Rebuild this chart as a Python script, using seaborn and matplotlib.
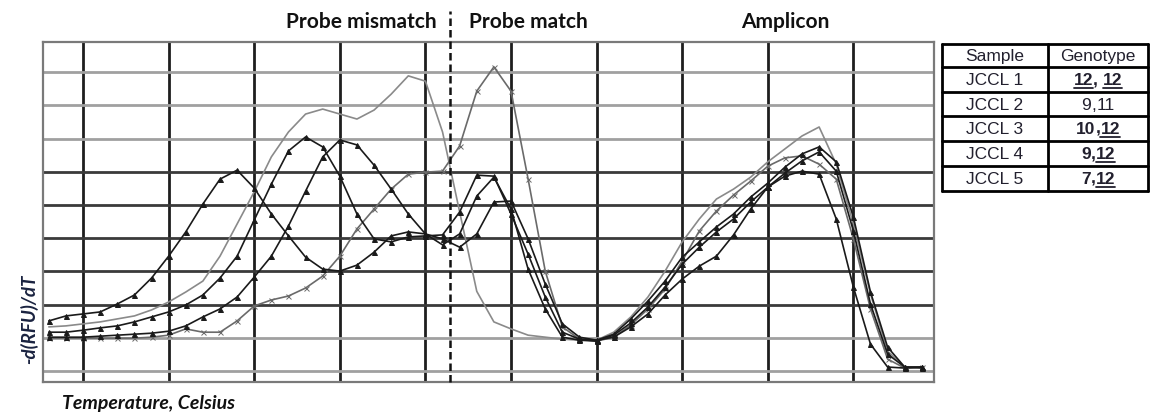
import numpy as np
import pandas as pd
import matplotlib
matplotlib.use("Agg")
import matplotlib.pyplot as plt
from matplotlib.lines import Line2D
import seaborn as sns

# ---------------- data ----------------
temperature = list(range(48, 100))  # Celsius, 1 degree steps

# JCCL 1 (12,12)
jccl1 = [0.99, 0.99, 0.99, 0.99, 0.99, 0.99, 1.02, 1.08, 1.27, 1.17,
         1.17, 1.51, 1.96, 2.14, 2.26, 2.50, 2.86, 3.46, 4.28, 4.88,
         5.48, 5.93, 5.99, 6.02, 6.78, 8.43, 9.16, 8.43, 5.78, 3.01,
         1.33, 0.96, 0.90, 1.02, 1.39, 1.87, 2.47, 3.31, 4.22, 4.82,
         5.30, 5.72, 6.17, 6.42, 6.48, 6.23, 5.78, 3.98, 1.87, 0.36,
         0.09, 0.12]
# JCCL 2 (9,11)
jccl2 = [1.33, 1.36, 1.42, 1.48, 1.57, 1.66, 1.84, 2.08, 2.38, 2.71,
         3.46, 4.43, 5.40, 6.45, 7.20, 7.74, 7.89, 7.74, 7.59, 7.86,
         8.34, 8.89, 8.73, 7.20, 4.79, 2.40, 1.48, 1.27, 1.08, 1.02,
         0.96, 0.93, 0.93, 1.17, 1.63, 2.23, 3.01, 3.89, 4.58, 5.18,
         5.48, 5.84, 6.30, 6.69, 7.08, 7.35, 6.23, 4.43, 2.32, 0.60,
         0.12, 0.12]
# JCCL 3 (10,12)
jccl3 = [1.02, 1.02, 1.02, 1.05, 1.08, 1.11, 1.14, 1.20, 1.36, 1.63,
         1.87, 2.23, 2.83, 3.46, 4.37, 5.42, 6.45, 6.96, 6.81, 6.20,
         5.48, 4.73, 4.13, 3.80, 4.13, 5.27, 5.84, 4.88, 3.07, 1.87,
         1.02, 0.93, 0.90, 1.08, 1.45, 1.93, 2.53, 3.22, 3.73, 4.19,
         4.58, 5.09, 5.54, 5.96, 6.33, 6.60, 6.02, 4.22, 2.02, 0.51,
         0.12, 0.09]
# JCCL 4 (9,12)
jccl4 = [1.17, 1.17, 1.23, 1.30, 1.36, 1.48, 1.63, 1.78, 1.99, 2.29,
         2.80, 3.46, 4.55, 5.63, 6.63, 7.05, 6.75, 5.87, 4.73, 3.98,
         3.89, 4.04, 4.07, 4.10, 4.79, 5.90, 5.87, 4.73, 3.52, 2.23,
         1.17, 0.96, 0.93, 1.11, 1.57, 2.11, 2.71, 3.43, 3.89, 4.34,
         4.73, 5.24, 5.66, 6.14, 6.54, 6.75, 6.30, 4.64, 2.38, 0.72,
         0.12, 0.12]
# JCCL 5 (7,12)
jccl5 = [1.51, 1.66, 1.72, 1.78, 2.02, 2.29, 2.80, 3.46, 4.19, 5.03,
         5.78, 6.05, 5.51, 4.73, 4.07, 3.43, 3.07, 3.01, 3.19, 3.58,
         4.07, 4.19, 4.13, 3.98, 3.73, 4.13, 5.09, 5.12, 3.98, 2.62,
         1.42, 1.02, 0.93, 1.02, 1.33, 1.72, 2.29, 2.77, 3.16, 3.46,
         4.10, 4.88, 5.54, 5.87, 6.02, 5.93, 4.58, 2.53, 0.81, 0.12,
         0.09, 0.12]

samples = ["JCCL 1", "JCCL 2", "JCCL 3", "JCCL 4", "JCCL 5"]
allele_a = ["12", "9", "10", "9", "7"]
allele_b = ["12", "11", "12", "12", "12"]
matched_allele = "12"
region_labels = ["Probe mismatch", "Probe match", "Amplicon"]
boundary_temp = 71.44

# ---------------- style ----------------
sns.set_style("white")
plt.rcParams["font.family"] = ["Lato", "DejaVu Sans"]

W, H = 1151, 414
fig = plt.figure(figsize=(W / 100, H / 100), dpi=100)

def fx(px):
    return px / W

def fy(py):
    return 1 - py / H

ax = fig.add_axes([fx(43), fy(383), fx(934) - fx(43), fy(43) - fy(383)])
ax.set_xlim(47.66, 99.71)
ax.set_ylim(-0.33, 9.91)

# grid
ax.set_xticks(range(50, 96, 5))
ax.set_yticks(range(2, 7))
ax.set_yticks([0, 1, 7, 8, 9], minor=True)
ax.grid(axis="x", which="major", color="#1e1e1e", lw=2.0)
ax.grid(axis="y", which="major", color="#3a3a3a", lw=2.0)
ax.grid(axis="y", which="minor", color="#a0a0a0", lw=2.0)
ax.set_axisbelow(True)
ax.tick_params(which="both", length=0, labelbottom=False, labelleft=False)
for s in ax.spines.values():
    s.set_color("#7a7a7a")
    s.set_linewidth(1.6)

series = [
    (jccl2, "#8a8a8a", None, 1.2),
    (jccl1, "#6a6a6a", "x", 1.2),
    (jccl3, "#1a1a1a", "^", 1.2),
    (jccl4, "#1a1a1a", "^", 1.2),
    (jccl5, "#1a1a1a", "^", 1.2),
]
for vals, col, mk, lw in series:
    kw = dict(marker=mk, markersize=3.6, markeredgewidth=0.7,
              markeredgecolor=col, markerfacecolor=col) if mk else {}
    sns.lineplot(x=temperature, y=vals, color=col, lw=lw, ax=ax,
                 legend=False, zorder=3, **kw)

ax.set_xlabel("")
ax.set_ylabel("")

# dashed boundary line
ax.axvline(boundary_temp, ymin=0, ymax=(383 - 12) / 340, clip_on=False,
           color="#111111", lw=1.8, ls=(0, (3, 1.6)), zorder=4)

# region titles
for lab, cx in zip(region_labels, [361, 528, 785]):
    fig.text(fx(cx), fy(22), lab, ha="center", va="center",
             fontsize=15, fontweight="bold", color="#111111")

# axis labels
fig.text(fx(29), fy(319), "-d(RFU)/dT", rotation=90, ha="center",
         va="center", fontsize=13.5, fontweight="bold", fontstyle="italic",
         color="#1a2340")
fig.text(fx(62), fy(404), "Temperature, Celsius", ha="left", va="center",
         fontsize=14, fontweight="bold", fontstyle="italic", color="#111111")

# ---------------- genotype table ----------------
rows_y = [45, 68, 93, 117, 142, 167, 192]
cols_x = [942, 1048, 1148]
for y in rows_y:
    fig.add_artist(Line2D([fx(cols_x[0]), fx(cols_x[-1])], [fy(y), fy(y)],
                          transform=fig.transFigure, color="black", lw=2))
for x in cols_x:
    fig.add_artist(Line2D([fx(x), fx(x)], [fy(rows_y[0]), fy(rows_y[-1])],
                          transform=fig.transFigure, color="black", lw=2))

tcol = "#22202e"
tfont = ["Liberation Sans", "DejaVu Sans"]
scx = (cols_x[0] + cols_x[1]) / 2
gcx = (cols_x[1] + cols_x[2]) / 2
hy = (rows_y[0] + rows_y[1]) / 2
fig.text(fx(scx), fy(hy), "Sample", ha="center", va="center", fontsize=12.5,
         color=tcol, family=tfont)
fig.text(fx(gcx), fy(hy), "Genotype", ha="center", va="center", fontsize=12.5,
         color=tcol, family=tfont)

fig.canvas.draw()
renderer = fig.canvas.get_renderer()
for i, name in enumerate(samples):
    cy = (rows_y[i + 1] + rows_y[i + 2]) / 2
    fig.text(fx(scx), fy(cy), name, ha="center", va="center", fontsize=12.5,
             color=tcol, family=tfont)
    sep = ", " if allele_a[i] == allele_b[i] else ","
    pieces = [allele_a[i], sep, allele_b[i]]
    has_match = matched_allele in (allele_a[i], allele_b[i])
    weight = "bold" if has_match else "normal"
    texts = [fig.text(0, fy(cy), p, ha="left", va="center", fontsize=12.5,
                      color=tcol, family=tfont, fontweight=weight)
             for p in pieces]
    widths = [t.get_window_extent(renderer).width for t in texts]
    x0 = gcx - sum(widths) / 2
    for t, p, w in zip(texts, pieces, widths):
        t.set_x(fx(x0))
        if p == matched_allele:
            uy = cy + 8
            fig.add_artist(Line2D([fx(x0), fx(x0 + w)], [fy(uy), fy(uy)],
                                  transform=fig.transFigure, color=tcol,
                                  lw=1.3))
        x0 += w

fig.savefig("out.png", dpi=100)
